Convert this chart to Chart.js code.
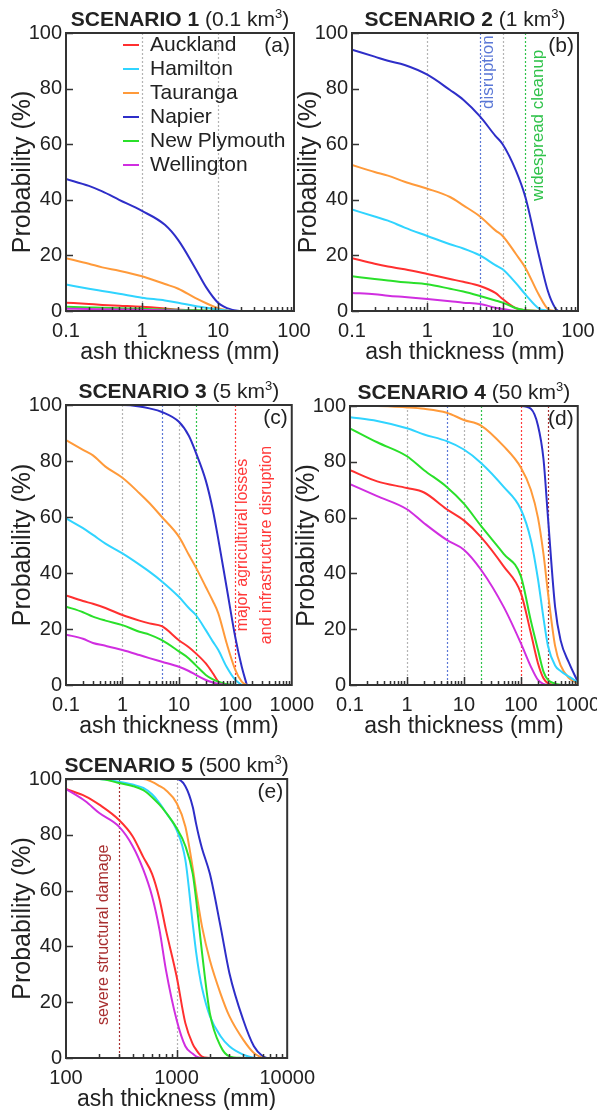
<!DOCTYPE html>
<html>
<head>
<meta charset="utf-8">
<script src="https://cdn.jsdelivr.net/npm/chart.js@4.4.1/dist/chart.umd.min.js"></script>
<style>
  html, body { margin: 0; padding: 0; background: #fff; overflow: hidden; }
  #wrap { position: relative; width: 597px; height: 1110px; overflow: hidden; }
  #wrap canvas { position: absolute; }
</style>
</head>
<body>
<div id="wrap"></div>
<script>
const cities = ['Auckland', 'Hamilton', 'Tauranga', 'Napier', 'New Plymouth', 'Wellington'];
const cityColors = ['#ff3030', '#30d4ff', '#ff9a3a', '#2e2ec8', '#2ae02a', '#d02ee0'];

// scenario 1 (0.1 km3)
const s1Thick = [0.1, 0.2, 0.3, 0.5, 1, 2, 3, 5, 7, 10, 15, 20];
const s1Auckland = [3, 2.5, 2.2, 1.9, 1.5, 0.9, 0.5, 0.2, 0, null, null, null];
const s1Hamilton = [9.5, 8, 7.2, 6.2, 4.8, 3.8, 3, 1.8, 1.2, 0.5, 0, null];
const s1Tauranga = [19, 17, 15.7, 14.5, 12.5, 9.7, 8, 4.7, 2.8, 1, 0, null];
const s1Napier = [47.5, 45, 43, 40, 36, 31, 25.5, 15.5, 8.5, 3, 0.5, 0];
const s1NewPlymouth = [1.5, 1.3, 1.2, 1, 0.8, 0.5, 0.4, 0.3, 0.2, 0, null, null];
const s1Wellington = [0.8, 0.7, 0.6, 0.5, 0.4, 0.3, 0.2, 0, null, null, null, null];

// scenario 2 (1 km3)
const s2Thick = [0.1, 0.2, 0.3, 0.5, 1, 2, 3, 5, 8, 10, 15, 20, 30, 40, 50, 55];
const s2Auckland = [19, 17, 16, 15, 13.3, 11.5, 10.5, 9, 6.5, 4.3, 1, 0.3, 0, null, null, null];
const s2Hamilton = [36.5, 34, 32.5, 30, 27, 24, 22.5, 20, 16.5, 15, 10, 6, 1, 0, null, null];
const s2Tauranga = [52.5, 50, 48.7, 46.5, 44, 41, 38, 34, 29, 27, 20.5, 15.6, 6, 0.7, 0, null];
const s2Napier = [94, 91.5, 90, 88.5, 85, 79.5, 76, 70, 63, 60, 50.5, 41, 20.5, 7, 1, 0];
const s2NewPlymouth = [12.5, 11.5, 11, 10.3, 9.6, 8, 7, 5.4, 3.8, 3, 1, 0.3, 0, null, null, null];
const s2Wellington = [6.5, 6, 5.5, 5, 4.3, 3.5, 3, 2.5, 1.2, 0.7, 0, null, null, null, null, null];

// scenario 3 (5 km3)
const s3Thick = [0.1, 0.2, 0.3, 0.5, 1, 2, 3, 5, 10, 15, 20, 30, 40, 50, 70, 100, 130, 160];
const s3Auckland = [32, 30, 29, 27.5, 25, 23, 22, 21, 16, 13.5, 11.3, 7.7, 4.2, 1.2, 0, null, null, null];
const s3Hamilton = [59.5, 56, 53.6, 50.5, 47, 43, 40.5, 37, 31.5, 27.5, 25, 19.6, 15.5, 12.5, 6.5, 1.8, 0, null];
const s3Tauranga = [87.5, 84, 82, 78, 74, 68.5, 65, 60, 53, 46.5, 42, 35, 30, 25.6, 15, 5.4, 1.2, 0];
const s3Napier = [100, 100, 100, 100, 100, 99.5, 98.8, 97.5, 94, 89, 83, 73, 62.5, 52, 35, 17, 6.5, 0];
const s3NewPlymouth = [28, 26, 24.4, 23, 21.4, 19, 18, 16, 12, 9.5, 7, 3.6, 2, 1.2, 0.3, 0, null, null];
const s3Wellington = [18, 16.5, 15, 14, 12.5, 10.7, 9.6, 8.3, 6.5, 5, 3.6, 1.8, 0.9, 0.4, 0, null, null, null];

// scenario 4 (50 km3)
const s4Thick = [0.1, 0.3, 1, 2, 5, 10, 20, 50, 100, 150, 200, 250, 300, 400, 500, 700, 1000];
const s4Auckland = [77, 73, 70.6, 69, 63, 59, 53, 42.5, 33, 18.6, 7.8, 2.4, 0.6, 0, null, null, null];
const s4Hamilton = [96, 94.6, 92, 89.8, 87.4, 84.4, 79.6, 71, 63, 52, 38, 24, 14, 7, 5, 3, 1];
const s4Tauranga = [100, 100, 99.5, 99, 97.6, 95, 93, 85.6, 78, 70, 60, 47, 33, 14, 7, 2.5, 0.6];
const s4Napier = [100, 100, 100, 100, 100, 100, 100, 100, 100, 99, 93, 81, 60, 28, 16, 8, 1.2];
const s4NewPlymouth = [92, 87, 82, 77, 71, 65, 57, 47, 39, 23, 12.6, 4.8, 1.8, 0.5, 0, null, null];
const s4Wellington = [72, 67.7, 63, 58, 52, 48.5, 41.3, 28, 15, 6.6, 1.8, 0.4, 0, null, null, null, null];

// scenario 5 (500 km3)
const s5Thick = [100, 150, 200, 300, 400, 500, 600, 700, 800, 1000, 1200, 1400, 1500, 1600, 1700, 2000, 2500, 3000, 4000, 5000, 6000, 6500];
const s5Auckland = [96.4, 93.8, 90.8, 85.4, 79.5, 72, 66, 57, 46, 29.3, 12.5, 5, 3, 1.5, 0.5, 0, null, null, null, null, null, null];
const s5Hamilton = [100, 100, 100, 99, 98, 96.8, 94.5, 91.4, 88, 81.8, 71, 48, 38, 30.5, 25, 15, 7.8, 4.2, 1.2, 0, null, null];
const s5Tauranga = [100, 100, 100, 100, 100, 100, 99, 97.5, 96, 91.4, 83, 68, 60, 53, 47, 35, 23, 15, 6.6, 1.8, 0, null];
const s5Napier = [100, 100, 100, 100, 100, 100, 100, 100, 100, 100, 97.4, 90, 84, 79, 75, 66, 47, 30.5, 13.7, 4.2, 0.6, 0];
const s5NewPlymouth = [100, 100, 100, 98.6, 97.5, 96, 93.5, 90.8, 88, 82.4, 76, 66, 57, 47, 37.6, 16, 4.2, 0.6, 0, null, null, null];
const s5Wellington = [96.4, 92, 87.8, 83, 76, 67.5, 58, 46, 31.7, 13.7, 4.2, 1.5, 0.6, 0.2, 0, null, null, null, null, null, null, null];

const yTicks = [0, 20, 40, 60, 80, 100];

const gray = '#b4b4b4', blue = '#5b78d6', green = '#2fc24a', red = '#ff3a3a', darkred = '#a83030';

// threshold lines (mm)
const s1Lines = [[1, gray], [10, gray]];
const s2Lines = [[1, gray], [10, gray], [5, blue], [20, green]];
const s3Lines = [[1, gray], [10, gray], [5, blue], [20, green], [100, red]];
const s4Lines = [[1, gray], [10, gray], [5, blue], [20, green], [100, red], [300, darkred]];
const s5Lines = [[1000, gray], [300, darkred]];

const panels = [
  { name: '1', vol: '0.1', tag: '(a)', min: 0.1, max: 100, thick: s1Thick,
    vals: [s1Auckland, s1Hamilton, s1Tauranga, s1Napier, s1NewPlymouth, s1Wellington],
    lines: s1Lines, notes: [], legend: true, box: { L: 66, R: 294, T: 33, B: 311 } },
  { name: '2', vol: '1', tag: '(b)', min: 0.1, max: 100, thick: s2Thick,
    vals: [s2Auckland, s2Hamilton, s2Tauranga, s2Napier, s2NewPlymouth, s2Wellington],
    lines: s2Lines, legend: false, box: { L: 352, R: 578, T: 33, B: 311 },
    notes: [
      { at: 5, dx: 8, fy: 0.008, align: 'right', size: 17, color: blue, text: ['disruption'] },
      { at: 20, dx: 13, fy: 0.06, align: 'right', size: 17, color: green, text: ['widespread cleanup'] }
    ] },
  { name: '3', vol: '5', tag: '(c)', min: 0.1, max: 1000, thick: s3Thick,
    vals: [s3Auckland, s3Hamilton, s3Tauranga, s3Napier, s3NewPlymouth, s3Wellington],
    lines: s3Lines, legend: false, box: { L: 66, R: 292, T: 405, B: 685 },
    notes: [
      { at: 100, dx: 19.5, fy: 0.5, align: 'center', size: 16, color: red,
        text: ['major agricultural losses', 'and infrastructure disruption'] }
    ] },
  { name: '4', vol: '50', tag: '(d)', min: 0.1, max: 1000, thick: s4Thick,
    vals: [s4Auckland, s4Hamilton, s4Tauranga, s4Napier, s4NewPlymouth, s4Wellington],
    lines: s4Lines, notes: [], legend: false, box: { L: 350, R: 578, T: 406, B: 685 } },
  { name: '5', vol: '500', tag: '(e)', min: 100, max: 10000, thick: s5Thick,
    vals: [s5Auckland, s5Hamilton, s5Tauranga, s5Napier, s5NewPlymouth, s5Wellington],
    lines: s5Lines, legend: false, box: { L: 66, R: 293, T: 779, B: 1058 },
    notes: [
      { at: 300, dx: -15, fy: 0.882, align: 'left', size: 16, color: darkred, text: ['severe structural damage'] }
    ] }
];

const FONT = "'Liberation Sans', Arial, sans-serif";
const INK = '#222';
Chart.defaults.font.family = FONT;
Chart.defaults.color = INK;

const panelPlugin = {
  id: 'panel',
  beforeDatasetsDraw(chart, args, opts) {
    const { ctx, chartArea: a } = chart;
    const x = chart.scales.x;
    ctx.save();
    ctx.lineWidth = 1.2;
    ctx.setLineDash([2, 2]);
    opts.lines.forEach(l => {
      const px = Math.round(x.getPixelForValue(l[0])) + 0.5;
      ctx.strokeStyle = l[1];
      ctx.beginPath();
      ctx.moveTo(px, a.top);
      ctx.lineTo(px, a.bottom);
      ctx.stroke();
    });
    ctx.restore();
  },
  afterDatasetsDraw(chart, args, opts) {
    const { ctx, chartArea: a } = chart;
    const x = chart.scales.x, y = chart.scales.y;
    ctx.save();

    // rotated notes next to threshold lines
    opts.notes.forEach(n => {
      ctx.save();
      ctx.translate(x.getPixelForValue(n.at) + n.dx, a.top + n.fy * (a.bottom - a.top));
      ctx.rotate(-Math.PI / 2);
      ctx.font = n.size + 'px ' + FONT;
      ctx.fillStyle = n.color;
      ctx.textAlign = n.align;
      ctx.textBaseline = 'middle';
      n.text.forEach((t, i) => ctx.fillText(t, 0, (i - (n.text.length - 1) / 2) * 24));
      ctx.restore();
    });

    // frame
    ctx.strokeStyle = '#333';
    ctx.lineWidth = 2;
    ctx.strokeRect(a.left, a.top, a.right - a.left, a.bottom - a.top);

    // inward ticks
    ctx.lineWidth = 1.5;
    ctx.beginPath();
    yTicks.forEach(v => {
      const py = Math.round(y.getPixelForValue(v)) + 0.5;
      ctx.moveTo(a.left, py);
      ctx.lineTo(a.left + 7, py);
    });
    const d0 = Math.round(Math.log10(opts.min)), d1 = Math.round(Math.log10(opts.max));
    for (let d = d0; d < d1; d++) {
      for (let k = 1; k <= 9; k++) {
        if (d === d0 && k === 1) continue;
        const px = Math.round(x.getPixelForValue(k * Math.pow(10, d))) + 0.5;
        ctx.moveTo(px, a.bottom);
        ctx.lineTo(px, a.bottom - (k === 1 ? 8 : 4));
      }
    }
    ctx.stroke();

    // legend
    if (opts.legend) {
      ctx.font = '21px ' + FONT;
      ctx.textBaseline = 'middle';
      ctx.textAlign = 'left';
      cities.forEach((c, i) => {
        const ly = a.top + 12 + 24 * i;
        ctx.strokeStyle = cityColors[i];
        ctx.lineWidth = 2;
        ctx.beginPath();
        ctx.moveTo(a.left + 57, ly);
        ctx.lineTo(a.left + 73, ly);
        ctx.stroke();
        ctx.fillStyle = INK;
        ctx.fillText(c, a.left + 84, ly);
      });
    }

    // panel tag
    ctx.font = '21px ' + FONT;
    ctx.fillStyle = INK;
    ctx.textAlign = 'right';
    ctx.textBaseline = 'middle';
    ctx.fillText(opts.tag, a.right - 4, a.top + 13);

    // title: bold scenario + normal volume with superscript 3
    const bold = 'bold 21px ' + FONT, reg = '21px ' + FONT, sup = '13px ' + FONT;
    const p1 = 'SCENARIO ' + opts.name + ' ', p2 = '(' + opts.vol + ' km', p3 = '3', p4 = ')';
    ctx.font = bold; const w1 = ctx.measureText(p1).width;
    ctx.font = reg; const w2 = ctx.measureText(p2).width, w4 = ctx.measureText(p4).width;
    ctx.font = sup; const w3 = ctx.measureText(p3).width;
    let tx = (a.left + a.right) / 2 - (w1 + w2 + w3 + w4) / 2;
    const ty = a.top - 13;
    ctx.textAlign = 'left';
    ctx.font = bold; ctx.fillText(p1, tx, ty); tx += w1;
    ctx.font = reg; ctx.fillText(p2, tx, ty); tx += w2;
    ctx.font = sup; ctx.fillText(p3, tx, ty - 6); tx += w3;
    ctx.font = reg; ctx.fillText(p4, tx, ty);

    ctx.restore();
  }
};

const wrap = document.getElementById('wrap');

panels.forEach(p => {
  const b = p.box;
  const padTop = 33, padRight = 30, yW = 66, xH = 56;
  const canvas = document.createElement('canvas');
  const cw = b.R - b.L + yW + padRight, ch = b.B - b.T + padTop + xH;
  canvas.width = cw;
  canvas.height = ch;
  canvas.style.left = (b.L - yW) + 'px';
  canvas.style.top = (b.T - padTop) + 'px';
  canvas.style.width = cw + 'px';
  canvas.style.height = ch + 'px';
  wrap.appendChild(canvas);

  const decades = [];
  for (let v = p.min; v <= p.max * 1.0001; v *= 10) decades.push(Number(v.toPrecision(6)));

  const datasets = cities.map((c, i) => ({
    label: c,
    data: p.thick.map((t, j) => ({ x: t, y: p.vals[i][j] })).filter(d => d.y !== null),
    borderColor: cityColors[i],
    backgroundColor: cityColors[i],
    borderWidth: 2,
    pointRadius: 0,
    cubicInterpolationMode: 'monotone',
    fill: false
  }));
  // draw in the same stacking order as the figure (Napier on top)
  const order = [5, 4, 0, 1, 2, 3];
  const ordered = order.map(i => datasets[i]);

  new Chart(canvas, {
    type: 'line',
    data: { datasets: ordered },
    options: {
      responsive: false,
      animation: false,
      devicePixelRatio: 1,
      layout: { padding: { left: 0, top: padTop, right: padRight, bottom: 0 } },
      plugins: {
        legend: { display: false },
        tooltip: { enabled: false },
        panel: { name: p.name, vol: p.vol, tag: p.tag, lines: p.lines, notes: p.notes,
                 legend: p.legend, min: p.min, max: p.max }
      },
      scales: {
        x: {
          type: 'logarithmic',
          min: p.min,
          max: p.max,
          grid: { display: false, drawTicks: false },
          border: { display: false },
          afterBuildTicks: axis => { axis.ticks = decades.map(v => ({ value: v })); },
          afterFit: axis => { axis.height = xH; },
          ticks: {
            autoSkip: false,
            maxRotation: 0,
            padding: 8,
            color: INK,
            font: { size: 20 },
            callback: v => (v < 1 ? v.toFixed(1) : v.toFixed(0))
          },
          title: { display: true, text: 'ash thickness (mm)', color: INK,
                   font: { size: 23 }, padding: { top: 0, bottom: 1 } }
        },
        y: {
          min: 0,
          max: 100,
          grid: { display: false, drawTicks: false },
          border: { display: false },
          afterBuildTicks: axis => { axis.ticks = yTicks.map(v => ({ value: v })); },
          afterFit: axis => { axis.width = yW; },
          ticks: { padding: 4, color: INK, font: { size: 20 } },
          title: { display: true, text: 'Probability (%)', color: INK,
                   font: { size: 25 }, padding: { top: 8, bottom: 0 } }
        }
      }
    },
    plugins: [panelPlugin]
  });
});
</script>
</body>
</html>
